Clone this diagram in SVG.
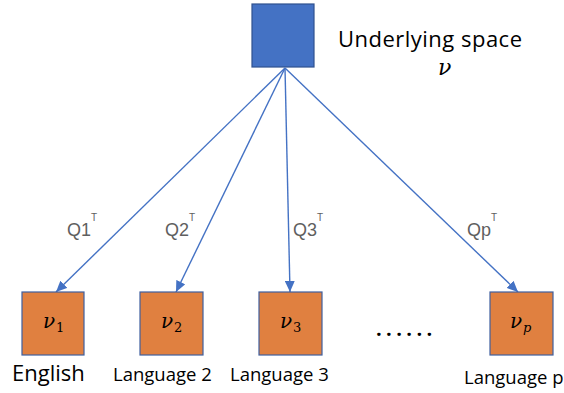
<svg xmlns="http://www.w3.org/2000/svg" width="564" height="393" viewBox="0 0 564 393">
  <defs>
    <marker id="arrow" viewBox="0 0 11 10" refX="11" refY="5" markerWidth="11" markerHeight="10" orient="auto" markerUnits="userSpaceOnUse">
      <path d="M0,0 L11,5 L0,10 z" fill="#4472C4"/>
    </marker>
    <style>
      .edge { stroke: #4472C4; stroke-width: 1.4; fill: none; marker-end: url(#arrow); }
      .lang { fill: #E08040; stroke: #3F5F9F; stroke-width: 1.2; }
      .math { font-family: "DejaVu Serif", "Liberation Serif", serif; font-style: italic; fill: #000; }
      .sub { font-family: "DejaVu Serif", "Liberation Serif", serif; font-size: 13px; fill: #000; }
      .q { font-family: "Liberation Sans", Arial, sans-serif; font-size: 18px; fill: #5f5f5f; }
      .qt { font-family: "Liberation Sans", Arial, sans-serif; font-size: 10px; fill: #5f5f5f; }
      .name { font-family: "Open Sans", "Liberation Sans", sans-serif; fill: #000; }
    </style>
  </defs>

  <g id="connectors">
    <line class="edge" x1="285" y1="68" x2="56" y2="292"/>
    <line class="edge" x1="285" y1="68" x2="176" y2="292"/>
    <line class="edge" x1="285" y1="68" x2="290" y2="292"/>
    <line class="edge" x1="285" y1="68" x2="518" y2="292"/>
    <text class="q" x="67" y="236">Q1</text><text class="qt" x="91" y="221">T</text>
    <text class="q" x="165" y="236">Q2</text><text class="qt" x="189" y="221">T</text>
    <text class="q" x="293" y="236">Q3</text><text class="qt" x="317" y="221">T</text>
    <text class="q" x="467" y="236">Qp</text><text class="qt" x="491" y="221">T</text>
  </g>

  <g id="underlying">
    <rect x="252" y="4" width="62" height="63" fill="#4472C4" stroke="#2F528F" stroke-width="1.2"/>
    <text class="name" x="338" y="47" font-size="22" textLength="184" lengthAdjust="spacing">Underlying space</text>
    <text class="math" x="438" y="75" font-size="22">ν</text>
  </g>

  <g id="english">
    <rect class="lang" x="22" y="292" width="62" height="63"/>
    <text class="math" x="43" y="328" font-size="20">ν</text><text class="sub" x="56" y="332">1</text>
    <text class="name" x="12" y="381" font-size="22">English</text>
  </g>

  <g id="language2">
    <rect class="lang" x="140" y="292" width="63" height="63"/>
    <text class="math" x="161" y="328" font-size="20">ν</text><text class="sub" x="174" y="332">2</text>
    <text class="name" x="113" y="381" font-size="18.5">Language 2</text>
  </g>

  <g id="language3">
    <rect class="lang" x="259" y="292" width="63" height="63"/>
    <text class="math" x="280" y="328" font-size="20">ν</text><text class="sub" x="293" y="332">3</text>
    <text class="name" x="230" y="381" font-size="18.5">Language 3</text>
  </g>

  <text class="name" x="376" y="336" font-size="20" font-weight="bold" letter-spacing="4.4">......</text>

  <g id="languagep">
    <rect class="lang" x="490" y="292" width="63" height="63"/>
    <text class="math" x="510" y="328" font-size="20">ν</text><text class="sub" x="523" y="332" font-style="italic">p</text>
    <text class="name" x="464" y="384" font-size="18.5">Language p</text>
  </g>
</svg>
